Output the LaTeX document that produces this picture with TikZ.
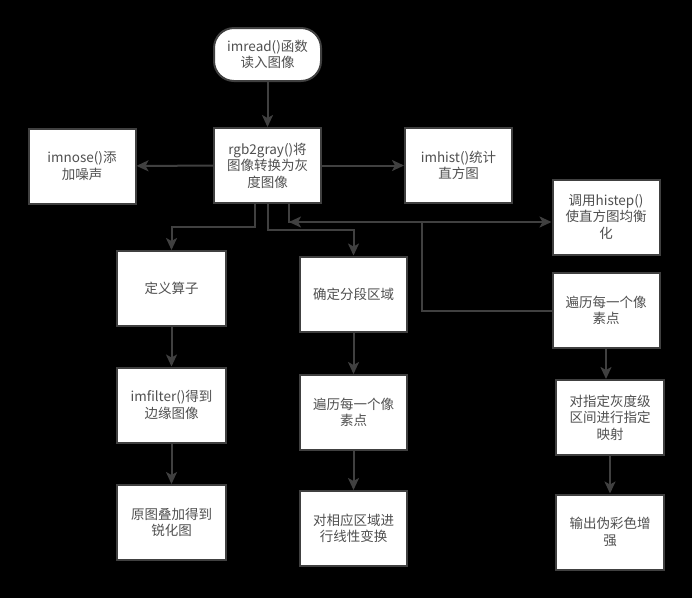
\documentclass[tikz,border=0pt]{standalone}
\usepackage{fontspec}
\setmainfont{Noto Sans CJK SC}
\usetikzlibrary{arrows.meta}
\definecolor{linegray}{RGB}{64,64,64}
\definecolor{txtgray}{RGB}{80,80,80}
\begin{document}
\begin{tikzpicture}[x=1pt, y=-1pt,
  procbox/.style={draw=linegray, line width=2pt, fill=white, minimum width=107pt, minimum height=75pt, align=center, text=txtgray, font=\fontsize{13.5}{16.5}\selectfont, inner sep=1pt},
  termbox/.style={procbox, rounded corners=20pt, minimum height=53pt},
  flow/.style={draw=linegray, line width=2pt, -{Stealth[length=12pt, width=11pt, inset=3pt]}}]
  \fill[black] (0,0) rectangle (692,598);
  \useasboundingbox (0,0) rectangle (692,598);
  \node[termbox] (start)    at (267.5,54.5) {imread()函数\\读入图像};
  \node[procbox] (rgb)      at (267.5,165.5) {rgb2gray()将\\图像转换为灰\\度图像};
  \node[procbox] (noise)    at (82,166)     {imnose()添\\加噪声};
  \node[procbox] (hist)     at (458.5,165.5) {imhist()统计\\直方图};
  \node[procbox] (histep)   at (606,217)    {调用histep()\\使直方图均衡\\化};
  \node[procbox, minimum width=109pt] (suanzi)   at (171.5,288.5) {定义算子};
  \node[procbox] (fenduan)  at (353.5,294)  {确定分段区域};
  \node[procbox] (bianliR)  at (606,310.5)  {遍历每一个像\\素点};
  \node[procbox, minimum width=109pt] (imfilter) at (171.5,405) {imfilter()得到\\边缘图像};
  \node[procbox] (bianliM)  at (353.5,412.5) {遍历每一个像\\素点};
  \node[procbox, minimum width=108pt] (yingshe)  at (610,417.5) {对指定灰度级\\区间进行指定\\映射};
  \node[procbox, minimum width=109pt] (ruihua)   at (171.5,522.5) {原图叠加得到\\锐化图};
  \node[procbox] (xianxing) at (353.5,528.5) {对相应区域进\\行线性变换};
  \node[procbox, minimum width=108pt] (shuchu)   at (610,532)   {输出伪彩色增\\强};
  \coordinate (back) at (289,222);
  \draw[flow] (start) -- (rgb);
  \draw[flow] (rgb) -- (noise);
  \draw[flow] (rgb) -- (hist);
  \draw[flow] ([xshift=-12.5pt]rgb.south) -- ++(0,23) -| (suanzi.north);
  \draw[flow] (rgb.south) -- ++(0,26) -| (fenduan.north);
  \draw[flow] ([xshift=21.5pt]rgb.south) |- ([yshift=-5pt]histep.west);
  \draw[flow] (bianliR.west) -- ++(-130,0) |- (back);
  \draw[flow] (suanzi) -- (imfilter);
  \draw[flow] (imfilter) -- (ruihua);
  \draw[flow] (fenduan) -- (bianliM);
  \draw[flow] (bianliM) -- (xianxing);
  \draw[flow] (bianliR.south) -- (bianliR.south |- yingshe.north);
  \draw[flow] (yingshe) -- (shuchu);
\end{tikzpicture}
\end{document}
